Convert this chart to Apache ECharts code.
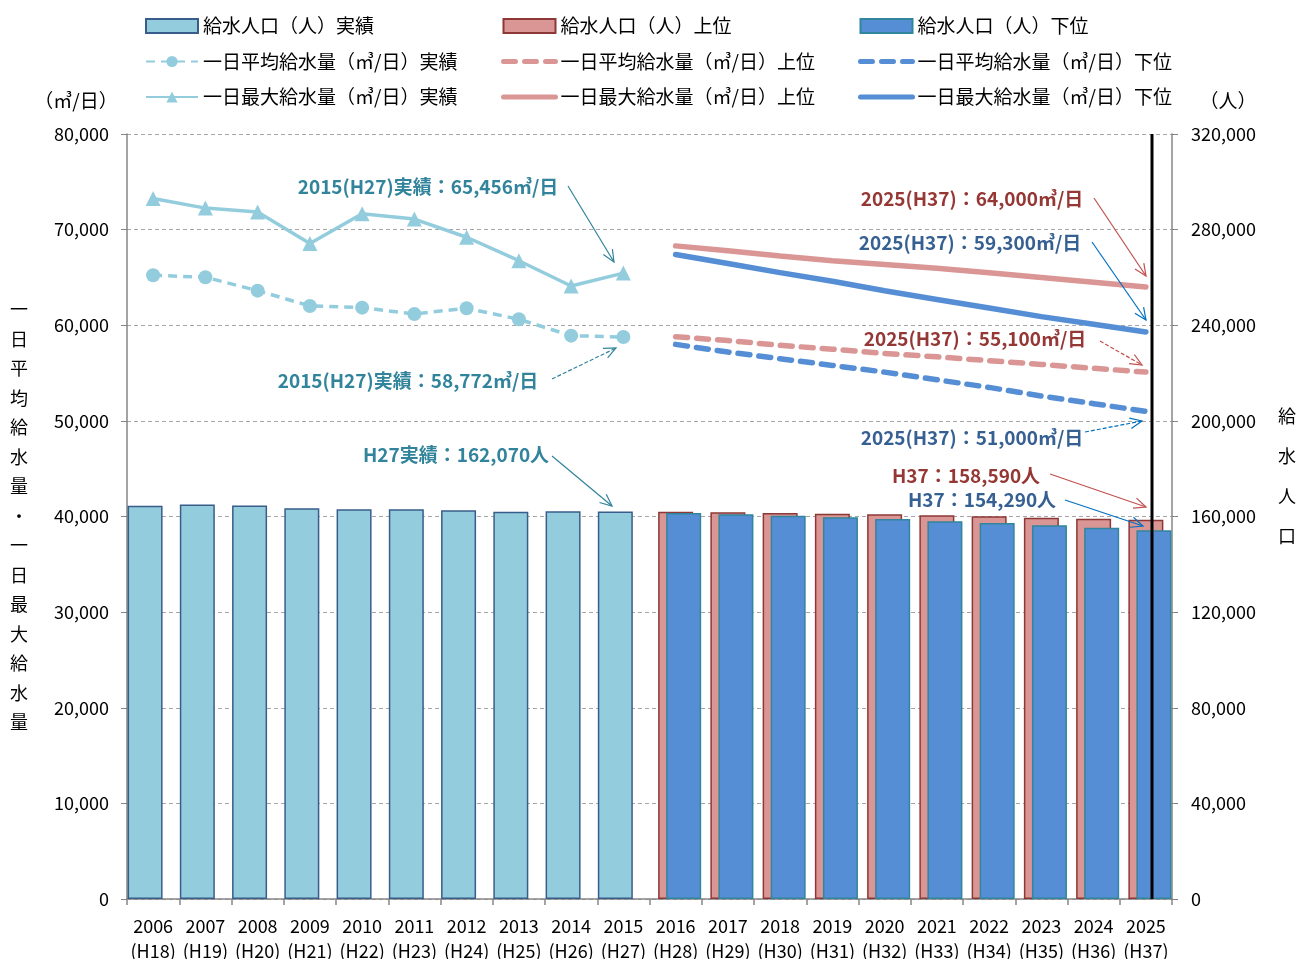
<!DOCTYPE html>
<html>
<head>
<meta charset="utf-8">
<script src="https://cdn.jsdelivr.net/npm/echarts@6/dist/echarts.min.js"></script>
<style>html,body{margin:0;padding:0;background:#fff;}#c{width:1298px;height:959px;}</style>
</head>
<body>
<div id="c"></div>
<script>
const years = ['2006','2007','2008','2009','2010','2011','2012','2013','2014','2015','2016','2017','2018','2019','2020','2021','2022','2023','2024','2025'];
const heisei = ['H18','H19','H20','H21','H22','H23','H24','H25','H26','H27','H28','H29','H30','H31','H32','H33','H34','H35','H36','H37'];
const leftTicks = [0,10000,20000,30000,40000,50000,60000,70000,80000];
const rightTicks = [0,40000,80000,120000,160000,200000,240000,280000,320000];
const N = null;
const popActual = [164500,165000,164600,163400,163000,163000,162600,162000,162200,162070,N,N,N,N,N,N,N,N,N,N];
const popUpper  = [N,N,N,N,N,N,N,N,N,N,162000,161750,161450,161200,160900,160500,160100,159500,159100,158590];
const popLower  = [N,N,N,N,N,N,N,N,N,N,161450,160900,160350,159650,158950,158000,157300,156300,155300,154290];
const avgActual = [65230,65020,63620,62020,61840,61180,61780,60630,58910,58772,N,N,N,N,N,N,N,N,N,N];
const avgUpper  = [N,N,N,N,N,N,N,N,N,N,58800,58400,57900,57500,57050,56700,56300,55900,55500,55100];
const avgLower  = [N,N,N,N,N,N,N,N,N,N,58000,57200,56500,55800,55100,54300,53500,52600,51800,51000];
const maxActual = [73250,72250,71850,68550,71650,71100,69200,66750,64100,65456,N,N,N,N,N,N,N,N,N,N];
const maxUpper  = [N,N,N,N,N,N,N,N,N,N,68300,67800,67250,66750,66350,65950,65500,65000,64500,64000];
const maxLower  = [N,N,N,N,N,N,N,N,N,N,67400,66450,65500,64600,63600,62700,61800,60900,60100,59300];

const FONT = '"Noto Sans CJK JP", "Noto Sans", sans-serif';
const cA = '#93CDDD', cU = '#DA9694', cL = '#558ED5';
const tA = '#31849B', tU = '#953735', tL = '#376092';
const arA = '#31849B', arU = '#C0504D', arL = '#0070C0';

const names = {
  pa:'給水人口（人）実績', pu:'給水人口（人）上位', pl:'給水人口（人）下位',
  aa:'一日平均給水量（㎥/日）実績', au:'一日平均給水量（㎥/日）上位', al:'一日平均給水量（㎥/日）下位',
  ma:'一日最大給水量（㎥/日）実績', mu:'一日最大給水量（㎥/日）上位', ml:'一日最大給水量（㎥/日）下位'
};

function fmt(v){ return Number(v).toLocaleString('en-US'); }

function arrow(x1,y1,x2,y2,color,dashed){
  const ang = Math.atan2(y2-y1, x2-x1), L = 13, a = 0.42;
  return [
    {type:'line', z:100, shape:{x1,y1,x2,y2}, style:{stroke:color, lineWidth:1.2, lineDash: dashed ? [4,2] : null}},
    {type:'polyline', z:100, shape:{points:[[x2-L*Math.cos(ang-a), y2-L*Math.sin(ang-a)],[x2,y2],[x2-L*Math.cos(ang+a), y2-L*Math.sin(ang+a)]]}, style:{stroke:color, lineWidth:1.2, fill:null}}
  ];
}
function label(x,y,text,color){
  return {type:'text', z:100, x, y, style:{text, fill:color, font:'bold 19px '+FONT, align:'center', verticalAlign:'middle'}};
}

const graphics = [
  {type:'line', z:100, shape:{x1:1152, y1:134, x2:1152, y2:899}, style:{stroke:'#000', lineWidth:3}},
  label(428,187,'2015(H27)実績：65,456㎥/日',tA), ...arrow(568,186,614,262,arA,false),
  label(408,381,'2015(H27)実績：58,772㎥/日',tA), ...arrow(552,379,616,348,arA,true),
  label(456,455,'H27実績：162,070人',tA), ...arrow(552,456,612,506,arA,false),
  label(972,199,'2025(H37)：64,000㎥/日',tU), ...arrow(1094,198,1146,276,arU,false),
  label(970,243,'2025(H37)：59,300㎥/日',tL), ...arrow(1092,242,1146,320,arL,false),
  label(975,339,'2025(H37)：55,100㎥/日',tU), ...arrow(1100,341,1142,365,arU,true),
  label(972,438,'2025(H37)：51,000㎥/日',tL), ...arrow(1085,432,1142,421,arL,true),
  label(966,476,'H37：158,590人',tU), ...arrow(1050,474,1146,507,arU,false),
  label(982,500,'H37：154,290人',tL), ...arrow(1065,500,1143,526,arL,false),
  {type:'text', x:76, y:101, style:{text:'（㎥/日）', fill:'#000', font:'19px '+FONT, align:'center', verticalAlign:'middle'}},
  {type:'text', x:1228, y:101, style:{text:'（人）', fill:'#000', font:'19px '+FONT, align:'center', verticalAlign:'middle'}},
  {type:'text', x:19, y:516, style:{text:'一日平均給水量・一日最大給水量'.split('').join('\n'), fill:'#000', font:'18px '+FONT, lineHeight:29.5, align:'center', verticalAlign:'middle'}},
  {type:'text', x:1287, y:476, style:{text:'給水人口'.split('').join('\n'), fill:'#000', font:'18px '+FONT, lineHeight:40, align:'center', verticalAlign:'middle'}}
];

const noSym = {color:'rgba(0,0,0,0)', borderWidth:0, opacity:0};
function legendCol(left, items){
  return {orient:'vertical', left, top:16, padding:0, itemWidth:52, itemHeight:14, itemGap:15.5, selectedMode:false,
    textStyle:{fontSize:19, fontFamily:FONT, color:'#000', lineHeight:20}, data:items};
}

const barBase = {type:'bar', yAxisIndex:1, barWidth:35, barGap:'-77%'};
const option = {
  animation:false,
  backgroundColor:'#fff',
  textStyle:{fontFamily:FONT},
  grid:{left:127, right:126, top:134, bottom:60, outerBoundsMode:'none', containLabel:false},
  legend:[
    legendCol(145,[{name:names.pa, icon:'rect'}, names.aa, names.ma]),
    legendCol(501,[{name:names.pu, icon:'rect'}, {name:names.au, itemStyle:noSym, lineStyle:{width:5}}, {name:names.mu, itemStyle:noSym, lineStyle:{width:5}}]),
    legendCol(858,[{name:names.pl, icon:'rect'}, {name:names.al, itemStyle:noSym, lineStyle:{width:5}}, {name:names.ml, itemStyle:noSym, lineStyle:{width:5}}])
  ],
  xAxis:{type:'category', data:years, boundaryGap:true,
    axisLine:{lineStyle:{color:'#868686', width:1.5}},
    axisTick:{show:true, length:6, lineStyle:{color:'#868686', width:1.5}},
    axisLabel:{fontSize:18, color:'#000', fontFamily:FONT, lineHeight:25, margin:15, interval:0,
      formatter:(v, i) => v + '\n(' + heisei[i] + ')'}},
  yAxis:[
    {type:'value', min:leftTicks[0], max:leftTicks[leftTicks.length-1], interval:leftTicks[1]-leftTicks[0],
      axisLine:{show:true, lineStyle:{color:'#868686', width:1.5}},
      axisTick:{show:true, length:6, lineStyle:{color:'#868686'}},
      axisLabel:{fontSize:18, color:'#000', fontFamily:FONT, margin:18, formatter:fmt},
      splitLine:{show:true, lineStyle:{color:'#A6A6A6', type:[4,3], width:1}}},
    {type:'value', min:rightTicks[0], max:rightTicks[rightTicks.length-1], interval:rightTicks[1]-rightTicks[0],
      axisLine:{show:true, lineStyle:{color:'#868686', width:1.5}},
      axisTick:{show:true, length:6, lineStyle:{color:'#868686'}},
      axisLabel:{fontSize:18, color:'#000', fontFamily:FONT, margin:19, formatter:fmt},
      splitLine:{show:false}}
  ],
  series:[
    Object.assign({}, barBase, {name:names.pa, data:popActual, itemStyle:{color:cA, borderColor:'#385D8A', borderWidth:1.5}}),
    Object.assign({}, barBase, {name:names.pu, data:popUpper, itemStyle:{color:cU, borderColor:'#8C3836', borderWidth:1.5}}),
    Object.assign({}, barBase, {name:names.pl, data:popLower, itemStyle:{color:cL, borderColor:'#31859C', borderWidth:1.5}}),
    {type:'line', name:names.aa, data:avgActual, yAxisIndex:0, symbol:'circle', symbolSize:14, z:5,
      lineStyle:{color:cA, width:3.5, type:[9,6]}, itemStyle:{color:cA}},
    {type:'line', name:names.au, data:avgUpper, yAxisIndex:0, symbol:'none', z:5,
      lineStyle:{color:cU, width:5.5, type:[12,9], cap:'round'}, itemStyle:{color:cU}},
    {type:'line', name:names.al, data:avgLower, yAxisIndex:0, symbol:'none', z:5,
      lineStyle:{color:cL, width:5.5, type:[12,9], cap:'round'}, itemStyle:{color:cL}},
    {type:'line', name:names.ma, data:maxActual, yAxisIndex:0, symbol:'triangle', symbolSize:15, z:5,
      lineStyle:{color:cA, width:3.5}, itemStyle:{color:cA}},
    {type:'line', name:names.mu, data:maxUpper, yAxisIndex:0, symbol:'none', z:5,
      lineStyle:{color:cU, width:5.5, cap:'round'}, itemStyle:{color:cU}},
    {type:'line', name:names.ml, data:maxLower, yAxisIndex:0, symbol:'none', z:5,
      lineStyle:{color:cL, width:5.5, cap:'round'}, itemStyle:{color:cL}}
  ],
  graphic:graphics
};
const chart = echarts.init(document.getElementById('c'), null, {renderer:'canvas'});
chart.setOption(option);
</script>
</body>
</html>
